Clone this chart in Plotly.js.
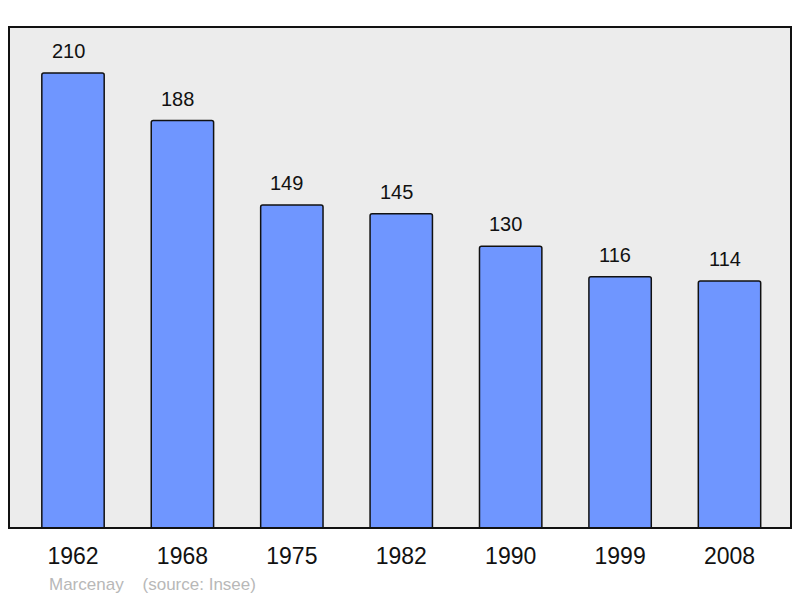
<!DOCTYPE html>
<html>
<head>
<meta charset="utf-8">
<script src="https://cdn.plot.ly/plotly-3.0.1.min.js"></script>
<style>html,body{margin:0;padding:0;background:#fff;}#chart{width:800px;height:598px;}</style>
</head>
<body>
<div id="chart"></div>
<script>
const years = ["1962", "1968", "1975", "1982", "1990", "1999", "2008"];
const population = [210, 188, 149, 145, 130, 116, 114];
const commune = "Marcenay";
const source = "(source: Insee)";

const idx = years.map((_, i) => i);

const trace = {
  type: "bar",
  x: idx,
  y: population,
  width: 0.57,
  marker: {color: "#6f96ff", line: {color: "#111", width: 1.5}, cornerradius: 2},
  hoverinfo: "skip"
};

const annotations = population.map((v, i) => ({
  x: i, y: v, xref: "x", yref: "y",
  text: String(v), showarrow: false,
  yanchor: "bottom", yshift: 9, xshift: -5,
  font: {family: "Liberation Sans, Arial, sans-serif", size: 20, color: "#111"}
}));
annotations.push({
  xref: "paper", yref: "paper", x: 0.049, y: -0.089,
  xanchor: "left", yanchor: "top", showarrow: false,
  text: commune + "&nbsp;&nbsp;&nbsp;&nbsp;" + source,
  font: {family: "Liberation Sans, Arial, sans-serif", size: 17, color: "#b8b8b8"}
});

const layout = {
  width: 800, height: 598,
  margin: {l: 9, r: 9, t: 27, b: 70},
  paper_bgcolor: "#ffffff",
  plot_bgcolor: "#ececec",
  showlegend: false,
  xaxis: {
    range: [-0.585, 6.562],
    tickvals: idx, ticktext: years,
    ticks: "", showgrid: false, zeroline: false, showline: false,
    tickfont: {family: "Liberation Sans, Arial, sans-serif", size: 23, color: "#111"},
    ticklabelstandoff: 12,
    fixedrange: true
  },
  yaxis: {
    range: [0, 231.2],
    showticklabels: false, ticks: "", showgrid: false, zeroline: false, showline: false,
    fixedrange: true
  },
  shapes: [{
    type: "rect", xref: "paper", yref: "paper", x0: 0, x1: 1, y0: 0, y1: 1,
    line: {color: "#111", width: 2}, fillcolor: "rgba(0,0,0,0)", layer: "above"
  }],
  annotations: annotations
};

Plotly.newPlot("chart", [trace], layout, {displayModeBar: false, staticPlot: true});
</script>
</body>
</html>
